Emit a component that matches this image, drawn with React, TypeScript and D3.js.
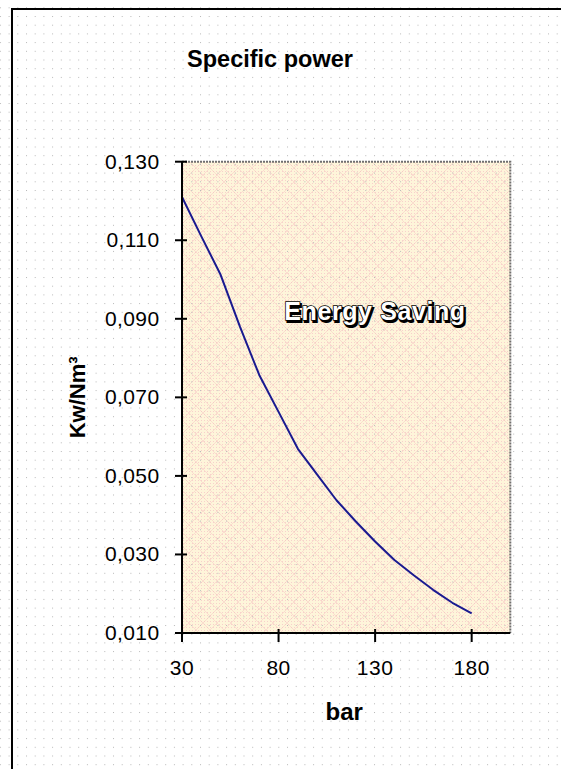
import React from "react";
import * as d3 from "d3";

const pressureBar = [30, 40, 50, 60, 70, 80, 90, 100, 110, 120, 130, 140, 150, 160, 170, 180];
const specificPower = [0.121, 0.111, 0.1012, 0.088, 0.0757, 0.0663, 0.0569, 0.0503, 0.0438, 0.0384, 0.0333, 0.0286, 0.0247, 0.021, 0.0177, 0.015];
const xTickValues = [30, 80, 130, 180];
const yTickValues = [0.01, 0.03, 0.05, 0.07, 0.09, 0.11, 0.13];
const xDomain = [30, 200];
const yDomain = [0.01, 0.13];
const titleText = "Specific power";
const xTitle = "bar";
const yTitle = "Kw/Nm³";
const annotation = "Energy Saving";

const W = 561;
const H = 769;
const plot = { left: 182, right: 510.3, top: 161.7, bottom: 633 };

const locale = d3.formatLocale({ decimal: ",", thousands: ".", grouping: [3], currency: ["", "€"] });
const fmtY = locale.format(".3f");

export default function App() {
  const x = d3.scaleLinear().domain(xDomain).range([plot.left, plot.right]);
  const y = d3.scaleLinear().domain(yDomain).range([plot.bottom, plot.top]);
  const pts = pressureBar.map((b, i) => [b, specificPower[i]] as [number, number]);
  const line = d3
    .line<[number, number]>()
    .x((d) => x(d[0]))
    .y((d) => y(d[1]));
  const font = "Arial, 'Liberation Sans', sans-serif";
  const cx = (plot.left + plot.right) / 2;
  const cy = (plot.top + plot.bottom) / 2;
  const pw = plot.right - plot.left;
  const ph = plot.bottom - plot.top;

  return (
    <svg
      width={W}
      height={H}
      viewBox={`0 0 ${W} ${H}`}
      style={{ position: "absolute", left: 0, top: 0, display: "block" }}
    >
      <defs>
        <pattern id="dots" x={17.3} y={16} width={8.7} height={8.7} patternUnits="userSpaceOnUse">
          <rect x={0} y={0} width={1} height={1} fill="#b8b8b8" />
        </pattern>
        <pattern id="fine" x={0} y={0} width={3} height={3} patternUnits="userSpaceOnUse">
          <rect x={0} y={0} width={1} height={1} fill="#f8d0cc" />
        </pattern>
        <pattern id="hatch" x={0} y={0} width={14} height={14} patternUnits="userSpaceOnUse">
          <path d="M0,0 L14,14 M14,0 L0,14" stroke="#f6c0c0" strokeWidth={0.8} opacity={0.55} />
        </pattern>
      </defs>

      <rect x={0} y={0} width={W} height={H} fill="#ffffff" />
      <rect x={0} y={0} width={W} height={H} fill="url(#dots)" />

      {/* outer frame */}
      <path d={`M12,${H} L12,9 L${W},9`} fill="none" stroke="#000" strokeWidth={2} />

      {/* plot area */}
      <rect x={plot.left} y={plot.top} width={pw} height={ph} fill="#fef5da" />
      <rect x={plot.left} y={plot.top} width={pw} height={ph} fill="url(#fine)" />
      <rect x={plot.left} y={plot.top} width={pw} height={ph} fill="url(#hatch)" />
      <rect x={plot.left} y={plot.top} width={pw} height={ph} fill="url(#dots)" />
      <path
        d={`M${plot.left},${plot.top} L${plot.right},${plot.top} L${plot.right},${plot.bottom}`}
        fill="none"
        stroke="#707070"
        strokeWidth={2}
        strokeDasharray="2,1"
      />

      {/* title */}
      <text x={270} y={67} textAnchor="middle" fontFamily={font} fontWeight="bold" fontSize={23.5} fill="#000">
        {titleText}
      </text>

      {/* annotation */}
      <g fontFamily={font} fontWeight="bold" fontSize={25} textAnchor="middle" letterSpacing={0.6}>
        <text x={376.5} y={321.5} fill="#000" stroke="#000" strokeWidth={2}>
          {annotation}
        </text>
        <text x={375} y={320} fill="#fff" stroke="#000" strokeWidth={1.6} style={{ paintOrder: "stroke" }}>
          {annotation}
        </text>
      </g>

      {/* data line */}
      <path d={line(pts) || ""} fill="none" stroke="#1a1a90" strokeWidth={2} strokeLinejoin="round" />

      {/* axes */}
      <line x1={plot.left} x2={plot.left} y1={plot.top} y2={plot.bottom + 1} stroke="#000" strokeWidth={2} />
      <line x1={plot.left - 1} x2={plot.right} y1={plot.bottom} y2={plot.bottom} stroke="#000" strokeWidth={2} />

      {yTickValues.map((v) => (
        <g key={"y" + v}>
          <line x1={plot.left - 7} x2={plot.left + 5} y1={y(v)} y2={y(v)} stroke="#000" strokeWidth={2} />
          <text
            x={159.5}
            y={y(v) + 7}
            textAnchor="end"
            fontFamily={font}
            fontSize={21}
            letterSpacing={0.4}
            fill="#000"
          >
            {fmtY(v)}
          </text>
        </g>
      ))}

      {xTickValues.map((v) => (
        <g key={"x" + v}>
          <line x1={x(v)} x2={x(v)} y1={plot.bottom - 4} y2={plot.bottom + 9} stroke="#000" strokeWidth={2} />
          <text x={x(v)} y={675} textAnchor="middle" fontFamily={font} fontSize={21} letterSpacing={0.5} fill="#000">
            {v}
          </text>
        </g>
      ))}

      {/* axis titles */}
      <text x={cx - 2} y={720} textAnchor="middle" fontFamily={font} fontWeight="bold" fontSize={24} fill="#000">
        {xTitle}
      </text>
      <text
        transform={`translate(85, ${cy}) rotate(-90)`}
        textAnchor="middle"
        fontFamily={font}
        fontWeight="bold"
        fontSize={22}
        fill="#000"
      >
        {yTitle}
      </text>
    </svg>
  );
}
